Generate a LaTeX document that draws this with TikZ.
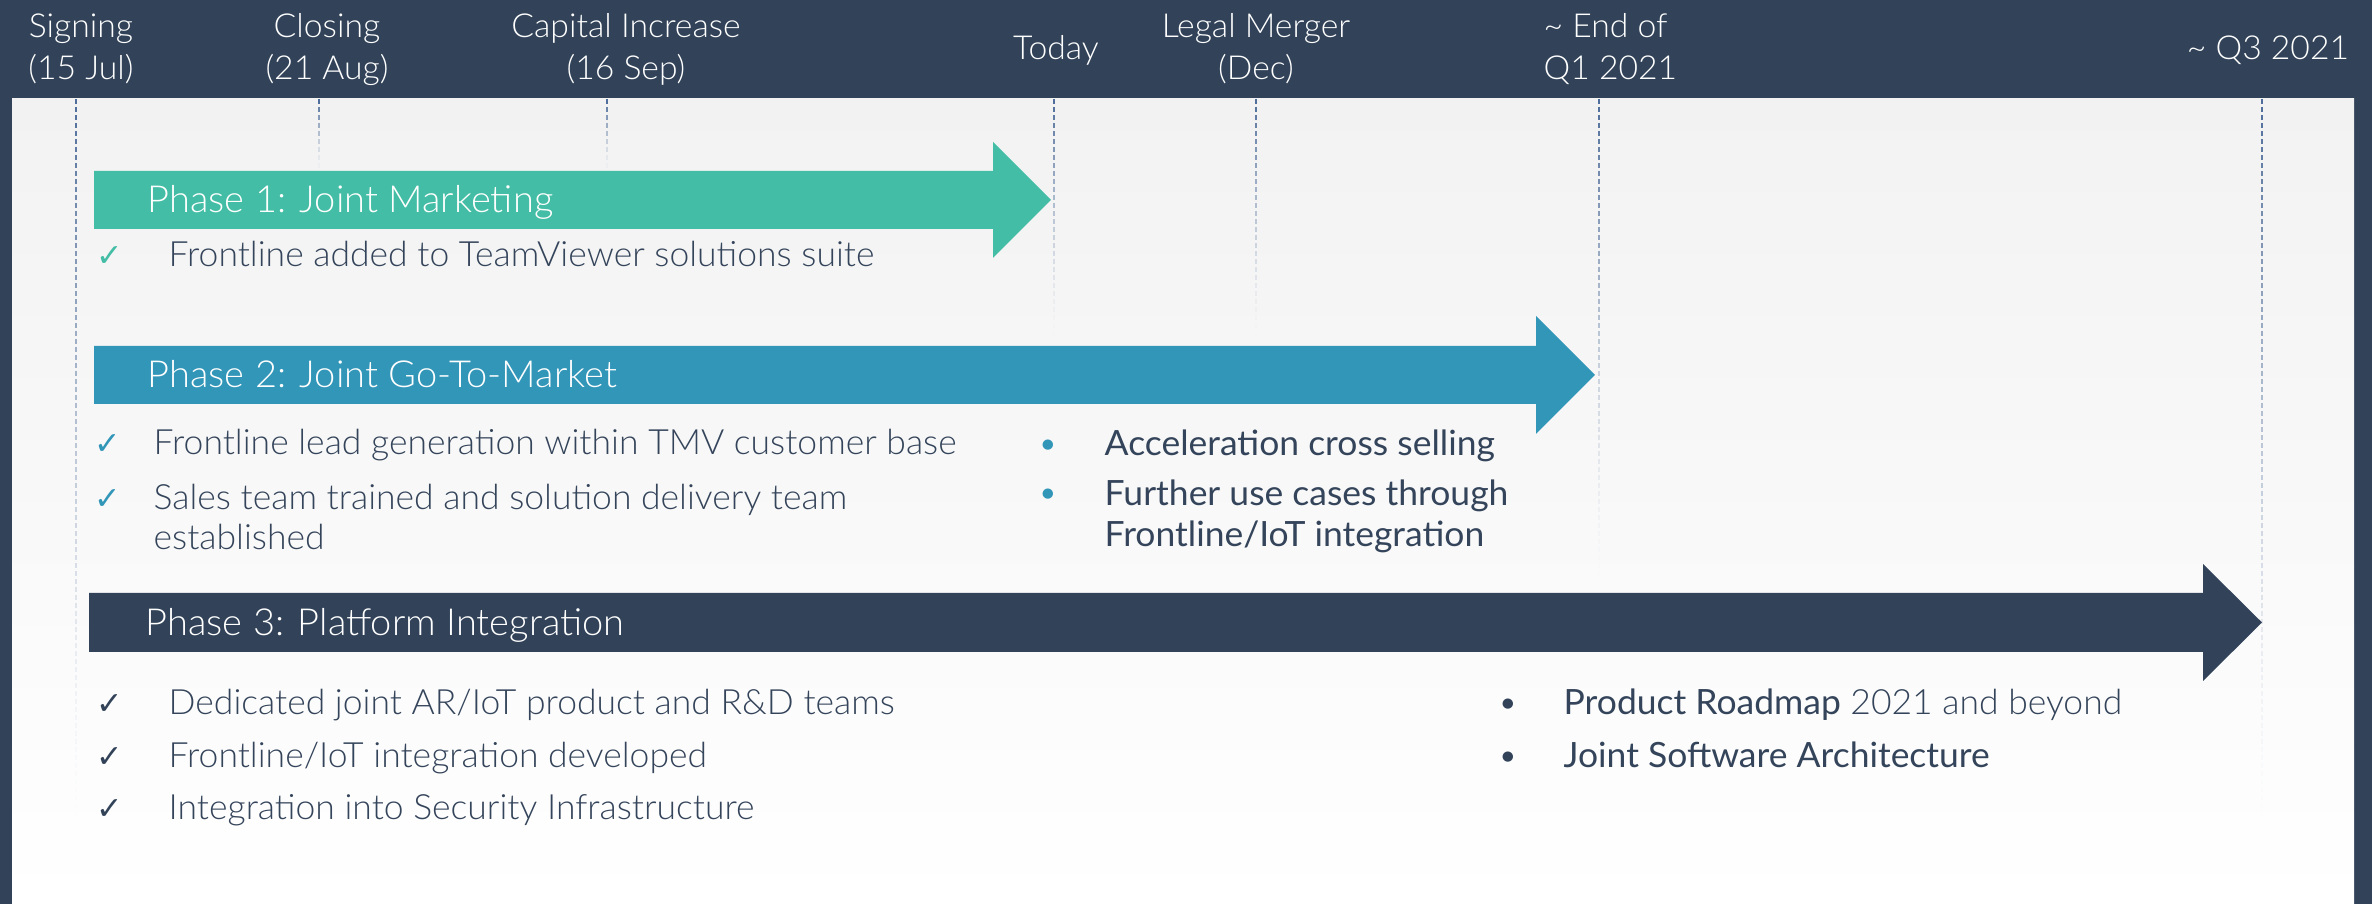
\documentclass[tikz,border=0pt]{standalone}
\usepackage{fontspec}
\setmainfont{Lato Light}[FakeStretch=1.02, BoldFont=Lato Regular]
\newfontfamily\symfont{DejaVu Sans}

\definecolor{navy}{HTML}{324359}
\definecolor{phaseone}{HTML}{43BDA5}
\definecolor{phasetwo}{HTML}{3296B8}
\definecolor{txt}{HTML}{34445A}
\definecolor{guidecol}{HTML}{4F6E9B}
\definecolor{bgtop}{HTML}{F2F2F2}

\tikzset{
  phase/.style={text=white, anchor=base west, inner sep=0pt, font=\fontsize{10.6}{13}\selectfont},
  item/.style={text=txt, anchor=base west, inner sep=0pt, align=left, font=\fontsize{9.9}{11.4}\selectfont},
  tick/.style={anchor=base west, inner sep=0pt, font=\symfont\fontsize{9}{10}\selectfont},
  dot/.style={anchor=base, inner sep=0pt, font=\fontsize{9.9}{11.4}\selectfont},
  milestone/.style={text=white, align=center, anchor=base, inner sep=0pt, font=\fontsize{9.4}{12.2}\selectfont},
  guide/.style={draw=guidecol, line width=0.45pt}
}

% dashed guide below a milestone, fading out downwards
\newcommand\guideline[3]{%
  \pgfmathtruncatemacro\nseg{(#3-#2)/8}%
  \foreach \k in {0,...,\nseg}{%
    \pgfmathsetmacro\op{(1-\k/(\nseg+1))^1.6}%
    \draw[guide, draw opacity=\op] (#1,#2+8*\k) -- ++(0,5);}}

\begin{document}
\begin{tikzpicture}[x=0.1mm,y=-0.1mm]
  \useasboundingbox (0,0) rectangle (2372,904);
  % frame and background
  \fill[navy] (0,0) rectangle (2372,904);
  \shade[top color=bgtop, bottom color=white] (12,99) rectangle (2354,904);

  % milestones (base = last line)
  \node[milestone] (signing) at (81,80) {Signing\\(15 Jul)};
  \node[milestone] (closing) at (327,80) {Closing\\(21 Aug)};
  \node[milestone] (capital) at (626,80) {Capital Increase\\(16 Sep)};
  \node[milestone] (today) at (1056,60) {Today};
  \node[milestone] (merger) at (1256,80) {Legal Merger\\(Dec)};
  \node[milestone, anchor=base west, align=left] (endq1) at (1543,80) {\textasciitilde{} End of\\Q1 2021};
  \node[milestone] (q3) at (2268,60) {\textasciitilde{} Q3 2021};

  \guideline{76}{99}{820}
  \guideline{319}{99}{168}
  \guideline{607}{99}{168}
  \guideline{1054}{99}{335}
  \guideline{1256}{99}{335}
  \guideline{1599}{99}{585}
  \guideline{2262}{99}{820}

  % phase arrows
  \fill[phaseone] (94,171) -- (993,171) -- (993,142) -- (1051,200)
    -- (993,258) -- (993,229) -- (94,229) -- cycle;
  \fill[phasetwo] (94,346) -- (1536,346) -- (1536,316) -- (1595,375)
    -- (1536,434) -- (1536,404) -- (94,404) -- cycle;
  \fill[navy] (89,593) -- (2203,593) -- (2203,564) -- (2262,622.5)
    -- (2203,681) -- (2203,652) -- (89,652) -- cycle;

  \node[phase] (p1) at (147,213) {Phase 1: Joint Marketing};
  \node[phase] (p2) at (147,388) {Phase 2: Joint Go-To-Market};
  \node[phase] (p3) at (145,636) {Phase 3: Platform Integration};

  % phase 1
  \node[tick, text=phaseone] (c11) at (96,267) {✓};
  \node[item] (i11) at (168,267) {Frontline added to TeamViewer solutions suite};

  % phase 2
  \node[tick, text=phasetwo] (c21) at (94,455) {✓};
  \node[tick, text=phasetwo] (c22) at (94,510) {✓};
  \node[item] (i21) at (153,455) {Frontline lead generation within TMV customer base};
  \node[item] (i22) at (153,550) {Sales team trained and solution delivery team\\established};
  \node[dot, text=phasetwo] (b21) at (1048,456) {•};
  \node[dot, text=phasetwo] (b22) at (1048,505) {•};
  \node[item] (n21) at (1104,456) {\bfseries Acceleration cross selling};
  \node[item, font=\bfseries\fontsize{9.9}{11.8}\selectfont] (n22) at (1104,547) {Further use cases through\\Frontline/IoT integration};

  % phase 3
  \node[tick, text=navy] (c31) at (96,715) {✓};
  \node[tick, text=navy] (c32) at (96,768) {✓};
  \node[tick, text=navy] (c33) at (96,820) {✓};
  \node[item] (i31) at (168,715) {Dedicated joint AR/IoT product and R\&D teams};
  \node[item] (i32) at (168,768) {Frontline/IoT integration developed};
  \node[item] (i33) at (168,820) {Integration into Security Infrastructure};
  \node[dot, text=navy] (b31) at (1508,715) {•};
  \node[dot, text=navy] (b32) at (1508,768) {•};
  \node[item] (n31) at (1563,715) {\textbf{Product Roadmap} 2021 and beyond};
  \node[item] (n32) at (1563,768) {\textbf{Joint Software Architecture}};
\end{tikzpicture}
\end{document}
